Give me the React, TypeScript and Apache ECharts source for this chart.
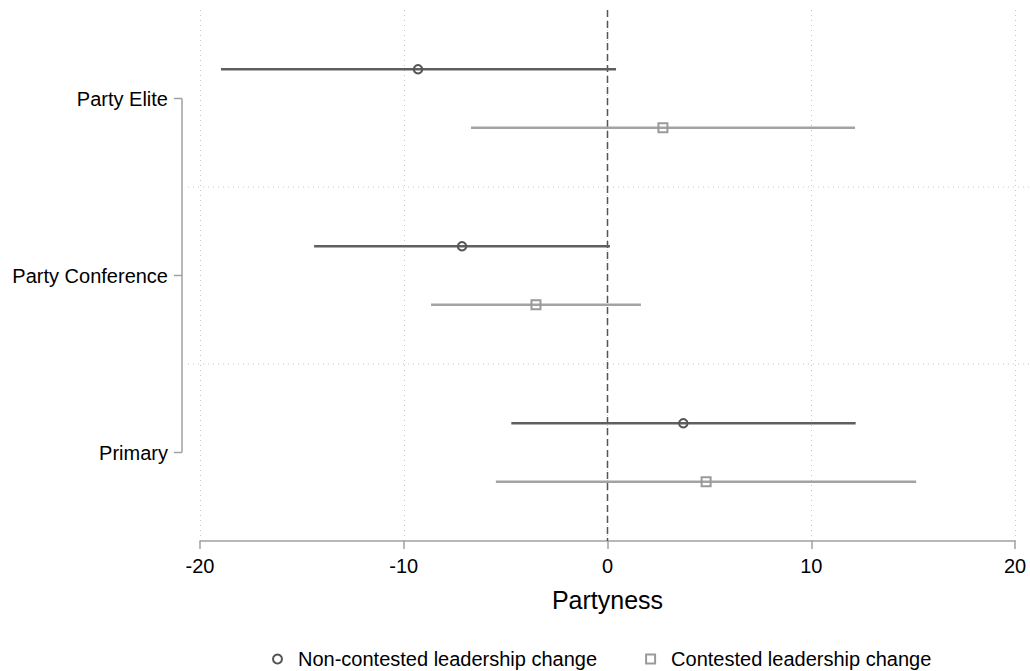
import React, { useEffect, useRef } from "react";
import * as echarts from "echarts";

const categories = ["Party Elite", "Party Conference", "Primary"];
const nonEst = [-9.3, -7.14, 3.72];
const nonLo = [-18.97, -14.4, -4.72];
const nonHi = [0.42, 0.12, 12.18];
const conEst = [2.72, -3.51, 4.84];
const conLo = [-6.7, -8.66, -5.48];
const conHi = [12.15, 1.64, 15.15];
const xTicks = [-20, -10, 0, 10, 20];
const seriesNames = ["Non-contested leadership change", "Contested leadership change"];

const OFF = 0.165;
const DARK = "#5f5f5f";
const LIGHT = "#a3a3a3";

export default function App() {
  const ref = useRef<HTMLDivElement>(null);
  useEffect(() => {
    document.body.style.margin = "0";
    const chart = echarts.init(ref.current!, null, { renderer: "svg" });
    const yCenter = (i: number) => i + 0.5;
    const errData = (lo: number[], hi: number[], sign: number) =>
      categories.map((_, i) => [lo[i], hi[i], yCenter(i) + sign * OFF]);
    const errSeries = (name: string, data: number[][], color: string) => ({
      type: "custom",
      name,
      silent: true,
      encode: { x: [0, 1], y: 2 },
      data,
      renderItem: (params: any, api: any) => {
        const p1 = api.coord([api.value(0), api.value(2)]);
        const p2 = api.coord([api.value(1), api.value(2)]);
        return {
          type: "line",
          shape: { x1: p1[0], y1: p1[1], x2: p2[0], y2: p2[1] },
          style: { stroke: color, lineWidth: 2.5 },
        };
      },
      z: 2,
    });
    chart.setOption({
      animation: false,
      backgroundColor: "#fff",
      textStyle: { fontFamily: "Liberation Sans, Arial, sans-serif" },
      grid: { left: 200, right: 15, top: 10, bottom: 130 },
      xAxis: {
        type: "value",
        min: xTicks[0],
        max: xTicks[xTicks.length - 1],
        interval: 10,
        name: "Partyness",
        nameLocation: "middle",
        nameGap: 46,
        nameTextStyle: { fontSize: 25, color: "#000" },
        axisLine: { onZero: false, lineStyle: { color: "#a0a0a0", width: 1.5 } },
        axisTick: { show: true, length: 8, lineStyle: { color: "#a0a0a0", width: 1.5 } },
        axisLabel: { fontSize: 20, color: "#000", margin: 15 },
        splitLine: { show: true, lineStyle: { type: [1, 4], color: "#c8c8c8", width: 1 } },
      },
      yAxis: {
        type: "value",
        min: 0,
        max: 3,
        inverse: true,
        axisLine: { show: false },
        axisTick: { show: false },
        splitLine: { show: false },
        axisLabel: {
          customValues: [0.5, 1.5, 2.5],
          formatter: (v: number) => categories[Math.floor(v)],
          fontSize: 20,
          color: "#000",
          margin: 32,
        },
      },
      legend: {
        top: 644,
        left: 267,
        itemGap: 48,
        itemWidth: 9,
        itemHeight: 9,
        textStyle: { fontSize: 20, color: "#000", padding: [0, 0, 0, 11] },
        data: [
          { name: seriesNames[0], icon: "circle" },
          { name: seriesNames[1], icon: "rect" },
        ],
        selectedMode: false,
      },
      series: [
        {
          type: "custom",
          silent: true,
          data: [[0, 0]],
          renderItem: (params: any, api: any) => {
            const left = api.coord([xTicks[0], 0])[0];
            const right = api.coord([xTicks[xTicks.length - 1], 0])[0];
            const top = api.coord([0, 0])[1];
            const bottom = api.coord([0, 3])[1];
            const bx = left - 18;
            const children: any[] = [];
            [1, 2].forEach((b) => {
              const y = api.coord([0, b])[1];
              children.push({
                type: "line",
                shape: { x1: left - 12, y1: y, x2: right + 15, y2: y },
                style: { stroke: "#c8c8c8", lineWidth: 1, lineDash: [1, 4] },
              });
            });
            const yc = categories.map((_, i) => api.coord([0, yCenter(i)])[1]);
            children.push({
              type: "line",
              shape: { x1: bx, y1: yc[0], x2: bx, y2: yc[yc.length - 1] },
              style: { stroke: "#a0a0a0", lineWidth: 1.5 },
            });
            yc.forEach((y) => {
              children.push({
                type: "line",
                shape: { x1: bx - 8, y1: y, x2: bx, y2: y },
                style: { stroke: "#a0a0a0", lineWidth: 1.5 },
              });
            });
            const zx = api.coord([0, 0])[0];
            children.push({
              type: "line",
              shape: { x1: zx, y1: top, x2: zx, y2: bottom },
              style: { stroke: "#555", lineWidth: 1.5, lineDash: [7, 4] },
            });
            return { type: "group", children };
          },
          clip: false,
          z: 1,
        },
        errSeries("errNon", errData(nonLo, nonHi, -1), DARK),
        errSeries("errCon", errData(conLo, conHi, 1), LIGHT),
        {
          type: "scatter",
          name: seriesNames[0],
          symbol: "circle",
          symbolSize: 8.5,
          itemStyle: { color: "rgba(255,255,255,0)", borderColor: "#555", borderWidth: 2, opacity: 1 },
          data: categories.map((_, i) => [nonEst[i], yCenter(i) - OFF]),
          z: 5,
        },
        {
          type: "scatter",
          name: seriesNames[1],
          symbol: "rect",
          symbolSize: 9,
          itemStyle: { color: "rgba(255,255,255,0)", borderColor: "#9a9a9a", borderWidth: 2, opacity: 1 },
          data: categories.map((_, i) => [conEst[i], yCenter(i) + OFF]),
          z: 5,
        },
      ],
    });
    return () => chart.dispose();
  }, []);
  return <div ref={ref} style={{ width: 1030, height: 671 }} />;
}
